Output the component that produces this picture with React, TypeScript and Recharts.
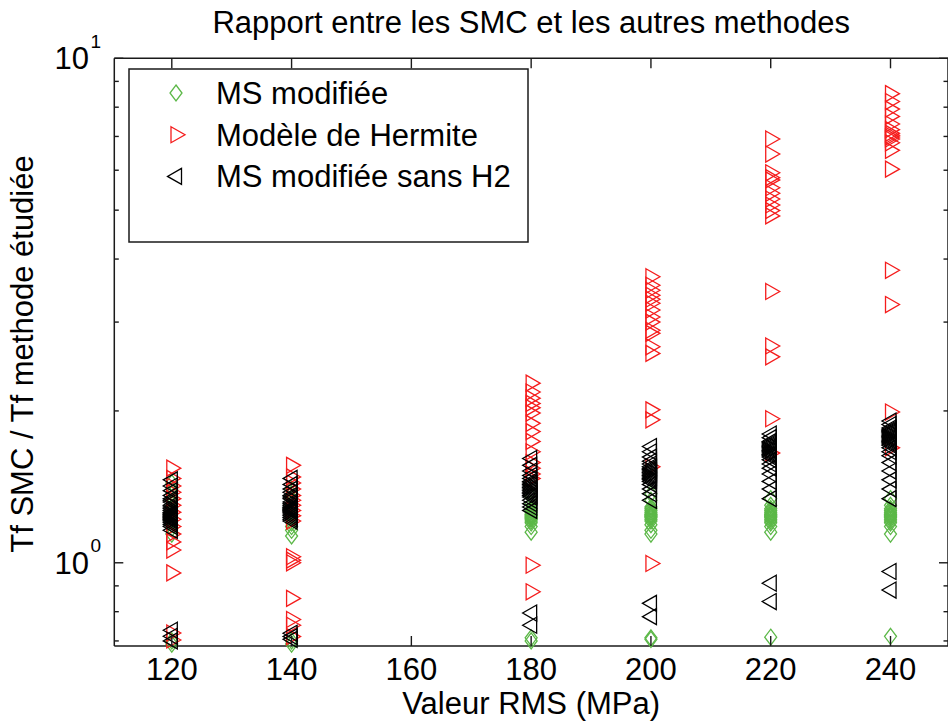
import React from 'react';
import { ScatterChart, Scatter, XAxis, YAxis, ReferenceLine } from 'recharts';

// ---------- data ----------
const X_TICKS = [120, 140, 160, 180, 200, 220, 240];
const Y_TICKS = [0.7, 0.8, 0.9, 1, 2, 3, 4, 5, 6, 7, 8, 9, 10];
const X_DOMAIN = [110.4, 249.6];
const Y_DOMAIN = [0.684, 10];

const TITLE = 'Rapport entre les SMC et les autres methodes';
const X_LABEL = 'Valeur RMS (MPa)';
const Y_LABEL = 'Tf SMC / Tf methode étudiée';
const SERIES_NAMES = ['MS modifiée', 'Modèle de Hermite', 'MS modifiée sans H2'];

// MS modifiée (green diamonds)
const msMod120 = [1.44, 1.4, 1.37, 1.34, 1.31, 1.29, 1.27, 1.25, 1.23, 1.21, 1.19, 1.17, 1.14, 0.7, 0.69];
const msMod140 = [1.4, 1.37, 1.34, 1.31, 1.28, 1.26, 1.24, 1.22, 1.2, 1.18, 1.16, 1.13, 0.7, 0.69];
const msMod180 = [1.35, 1.31, 1.28, 1.27, 1.26, 1.25, 1.245, 1.24, 1.235, 1.23, 1.225, 1.22, 1.21, 1.2, 1.18, 1.15, 0.71, 0.7];
const msMod200 = [1.37, 1.33, 1.29, 1.28, 1.27, 1.26, 1.25, 1.245, 1.24, 1.235, 1.23, 1.22, 1.21, 1.19, 1.16, 1.14, 0.71, 0.705];
const msMod220 = [1.34, 1.3, 1.28, 1.27, 1.26, 1.25, 1.245, 1.24, 1.235, 1.23, 1.22, 1.21, 1.2, 1.18, 1.15, 0.712];
const msMod240 = [1.34, 1.3, 1.28, 1.27, 1.26, 1.25, 1.245, 1.24, 1.235, 1.23, 1.22, 1.21, 1.2, 1.18, 1.14, 0.715];

// Modèle de Hermite (red right triangles)
const hermite120 = [1.54, 1.47, 1.42, 1.38, 1.34, 1.3, 1.26, 1.22, 1.18, 1.14, 1.1, 1.06, 0.955, 0.726, 0.703];
const hermite140 = [1.56, 1.48, 1.44, 1.4, 1.36, 1.33, 1.3, 1.27, 1.24, 1.21, 1.028, 1.012, 1.0, 0.85, 0.772, 0.752, 0.714];
const hermite180 = [2.27, 2.18, 2.12, 2.07, 2.03, 1.98, 1.89, 1.82, 1.74, 1.66, 1.58, 1.54, 1.5, 1.47, 0.989, 0.876];
const hermite200 = [3.69, 3.55, 3.47, 3.39, 3.33, 3.27, 3.17, 3.07, 3.0, 2.89, 2.85, 2.68, 2.6, 2.01, 1.92, 1.55, 0.997];
const hermite220 = [6.92, 6.46, 5.93, 5.8, 5.74, 5.54, 5.4, 5.26, 5.12, 4.99, 4.87, 3.45, 2.69, 2.56, 1.93, 1.65];
const hermite240 = [8.51, 8.21, 7.93, 7.67, 7.41, 7.22, 7.1, 7.04, 6.98, 6.92, 6.8, 6.57, 6.03, 3.8, 3.25, 1.99, 1.69];

// MS modifiée sans H2 (black left triangles)
const sansH2_120 = [1.46, 1.42, 1.39, 1.36, 1.34, 1.33, 1.32, 1.3, 1.29, 1.28, 1.27, 1.26, 1.255, 1.25, 1.245, 1.24, 1.235, 1.23, 1.225, 1.22, 1.215, 1.21, 1.2, 1.19, 1.18, 1.16, 0.735, 0.715, 0.7];
const sansH2_140 = [1.47, 1.43, 1.4, 1.38, 1.36, 1.35, 1.34, 1.32, 1.31, 1.3, 1.29, 1.285, 1.28, 1.275, 1.27, 1.265, 1.26, 1.25, 1.24, 1.23, 1.22, 1.21, 0.725, 0.714, 0.705];
const sansH2_180 = [1.61, 1.56, 1.52, 1.49, 1.47, 1.45, 1.44, 1.43, 1.42, 1.41, 1.4, 1.39, 1.38, 1.37, 1.36, 1.35, 1.33, 1.31, 1.29, 1.27, 0.795, 0.752];
const sansH2_200 = [1.7, 1.66, 1.62, 1.59, 1.57, 1.55, 1.54, 1.53, 1.52, 1.51, 1.5, 1.49, 1.48, 1.47, 1.46, 1.45, 1.43, 1.4, 1.37, 1.33, 0.831, 0.782];
const sansH2_220 = [1.8, 1.77, 1.74, 1.73, 1.72, 1.71, 1.7, 1.69, 1.68, 1.67, 1.66, 1.65, 1.64, 1.63, 1.62, 1.6, 1.57, 1.54, 1.5, 1.45, 1.4, 1.34, 0.911, 0.838];
const sansH2_240 = [1.91, 1.88, 1.85, 1.84, 1.83, 1.82, 1.81, 1.8, 1.79, 1.78, 1.77, 1.76, 1.75, 1.74, 1.73, 1.72, 1.71, 1.69, 1.66, 1.63, 1.58, 1.52, 1.46, 1.4, 1.34, 0.961, 0.883];

const toPoints = (x: number, ys: number[]) => ys.map((y) => ({ x, y }));

const msModData = [
  ...toPoints(120, msMod120), ...toPoints(140, msMod140), ...toPoints(180, msMod180),
  ...toPoints(200, msMod200), ...toPoints(220, msMod220), ...toPoints(240, msMod240),
];
const hermiteData = [
  ...toPoints(120, hermite120), ...toPoints(140, hermite140), ...toPoints(180, hermite180),
  ...toPoints(200, hermite200), ...toPoints(220, hermite220), ...toPoints(240, hermite240),
];
const sansH2Data = [
  ...toPoints(120, sansH2_120), ...toPoints(140, sansH2_140), ...toPoints(180, sansH2_180),
  ...toPoints(200, sansH2_200), ...toPoints(220, sansH2_220), ...toPoints(240, sansH2_240),
];

// ---------- layout / style ----------
const W = 948;
const H = 723;
const PL = 114.3;
const PT = 58.3;
const PR = 948;
const PB = 646;
const FONT = '"Liberation Sans", Arial, Helvetica, sans-serif';
const FS = 31;
const GREEN = '#5cb848';
const RED = '#f51c1c';
const BLACK = '#000000';
const AX = '#1a1a1a';
const MSW = 1.3;

const diamondPath = (cx: number, cy: number) =>
  `M${cx},${cy - 8} L${cx + 6},${cy} L${cx},${cy + 8} L${cx - 6},${cy} Z`;
const rightTriPath = (cx: number, cy: number) =>
  `M${cx - 5},${cy - 8} L${cx + 9},${cy} L${cx - 5},${cy + 8} Z`;
const leftTriPath = (cx: number, cy: number) =>
  `M${cx + 5.5},${cy - 8} L${cx - 8.5},${cy} L${cx + 5.5},${cy + 8} Z`;

const DiamondShape = (p: any) => (
  <path d={diamondPath(p.cx, p.cy)} fill="none" stroke={GREEN} strokeWidth={MSW} />
);
const RightTriShape = (p: any) => (
  <path d={rightTriPath(p.cx, p.cy)} fill="none" stroke={RED} strokeWidth={MSW} />
);
const LeftTriShape = (p: any) => (
  <path d={leftTriPath(p.cx, p.cy)} fill="none" stroke={BLACK} strokeWidth={MSW} />
);

const XTick = (props: any) => {
  const { x, payload } = props;
  return (
    <g>
      <line x1={x} x2={x} y1={PB} y2={PB - 10} stroke={AX} strokeWidth={1.4} />
      <line x1={x} x2={x} y1={PT} y2={PT + 10} stroke={AX} strokeWidth={1.4} />
      <text x={x} y={680} textAnchor="middle" fontSize={FS} fontFamily={FONT} fill="#000">
        {payload.value}
      </text>
    </g>
  );
};

const YTick = (props: any) => {
  const { y, payload } = props;
  const v = payload.value as number;
  const exp = Math.round(Math.log10(v));
  const major = Math.abs(Math.pow(10, exp) - v) < 1e-9;
  const len = major ? 9 : 4.5;
  return (
    <g>
      <line x1={PL} x2={PL + len} y1={y} y2={y} stroke={AX} strokeWidth={1.4} />
      <line x1={PR} x2={PR - len} y1={y} y2={y} stroke={AX} strokeWidth={1.4} />
      {major && (
        <text x={89} y={y + 11} textAnchor="end" fontSize={FS} fontFamily={FONT} fill="#000">
          10
        </text>
      )}
      {major && (
        <text x={90.5} y={y - 10.5} fontSize={19} fontFamily={FONT} fill="#000">
          {exp}
        </text>
      )}
    </g>
  );
};

const legendRows = [
  { name: SERIES_NAMES[0], path: diamondPath, color: GREEN },
  { name: SERIES_NAMES[1], path: rightTriPath, color: RED },
  { name: SERIES_NAMES[2], path: leftTriPath, color: BLACK },
];

export default function App() {
  return (
    <div style={{ position: 'absolute', left: 0, top: 0, width: W, height: H, background: '#fff' }}>
      <ScatterChart width={W} height={H} margin={{ top: PT, right: 0, bottom: 0, left: 0 }}>
        <XAxis
          type="number"
          dataKey="x"
          domain={X_DOMAIN}
          ticks={X_TICKS}
          height={H - PB}
          axisLine={{ stroke: AX, strokeWidth: 1.5 }}
          tickLine={false}
          tick={XTick}
          interval={0}
          label={{
            content: () => (
              <text x={(PL + PR) / 2} y={714} textAnchor="middle" fontSize={FS} fontFamily={FONT} fill="#000">
                {X_LABEL}
              </text>
            ),
          }}
        />
        <YAxis
          type="number"
          dataKey="y"
          scale="log"
          domain={Y_DOMAIN}
          ticks={Y_TICKS}
          width={PL}
          axisLine={{ stroke: AX, strokeWidth: 1.5 }}
          tickLine={false}
          tick={YTick}
          interval={0}
          label={{
            content: () => (
              <text
                x={33}
                y={354}
                transform={`rotate(-90 33 354)`}
                textAnchor="middle"
                fontSize={FS}
                fontFamily={FONT}
                fill="#000"
              >
                {Y_LABEL}
              </text>
            ),
          }}
        />
        <ReferenceLine y={10} stroke={AX} strokeWidth={1.5} />
        <ReferenceLine x={249.6} stroke={AX} strokeWidth={1.5} />
        <Scatter name={SERIES_NAMES[0]} data={msModData} shape={DiamondShape} isAnimationActive={false} />
        <Scatter name={SERIES_NAMES[1]} data={hermiteData} shape={RightTriShape} isAnimationActive={false} />
        <Scatter name={SERIES_NAMES[2]} data={sansH2Data} shape={LeftTriShape} isAnimationActive={false} />
      </ScatterChart>
      <svg
        width={W}
        height={H}
        style={{ position: 'absolute', left: 0, top: 0, pointerEvents: 'none' }}
      >
        <text x={(PL + PR) / 2} y={33} textAnchor="middle" fontSize={FS} fontFamily={FONT} fill="#000">
          {TITLE}
        </text>
        <rect x={129} y={69} width={399} height={173} fill="#fff" stroke={AX} strokeWidth={1.5} />
        {legendRows.map((r, i) => (
          <g key={r.name}>
            <path d={r.path(176, 93 + i * 41.7)} fill="none" stroke={r.color} strokeWidth={MSW} />
            <text x={216} y={93 + i * 41.7 + 11} fontSize={FS} fontFamily={FONT} fill="#000">
              {r.name}
            </text>
          </g>
        ))}
      </svg>
    </div>
  );
}
